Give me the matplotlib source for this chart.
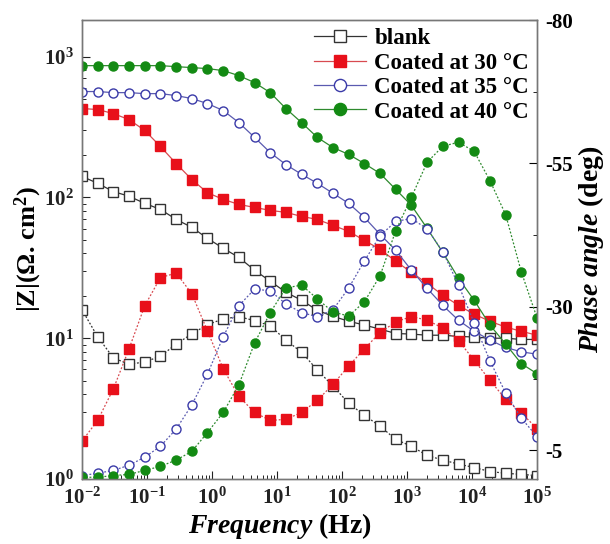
import matplotlib
matplotlib.use("Agg")
import matplotlib.pyplot as plt
from matplotlib.ticker import LogLocator, FixedLocator, NullFormatter

plt.rcParams['font.family'] = ['Liberation Serif', 'DejaVu Serif']
plt.rcParams['font.weight'] = 'bold'
plt.rcParams['axes.labelweight'] = 'bold'
plt.rcParams['axes.unicode_minus'] = False
plt.rcParams['mathtext.fontset'] = 'custom'
plt.rcParams['mathtext.rm'] = 'Liberation Serif:bold'
plt.rcParams['mathtext.it'] = 'Liberation Serif:bold:italic'
plt.rcParams['mathtext.bf'] = 'Liberation Serif:bold'

# frequency sweep (Hz)
freq = [0.01, 0.0174, 0.0304, 0.0530, 0.0924, 0.161, 0.281, 0.489, 0.853, 1.49,
        2.59, 4.52, 7.88, 13.7, 23.9, 41.7, 72.7, 127, 221, 385,
        672, 1170, 2040, 3560, 6210, 10800, 18900, 32900, 57400, 100000]

labels = ['blank', 'Coated at 30 \u00b0C', 'Coated at 35 \u00b0C', 'Coated at 40 \u00b0C']

# |Z| (ohm cm2)
z_blank = [141, 126, 110, 102, 90.7, 82.2, 69.8, 61.3, 51.2, 43.5,
           37.5, 30.4, 25.4, 21.2, 18.6, 15.8, 14.3, 13.2, 12.4, 11.6,
           10.8, 10.7, 10.5, 10.5, 10.3, 10.2, 10.0, 10.0, 9.8, 9.8]
z_30 = [428, 421, 394, 357, 299, 230, 174, 134, 108, 96.8,
        89.2, 84.9, 80.9, 78.3, 73.3, 69.8, 63.3, 57.4, 49.5, 42.8,
        35.2, 29.4, 24.5, 20.2, 17.1, 14.8, 13.2, 12.0, 11.2, 10.5]
z_35 = [565, 565, 555, 555, 546, 546, 529, 504, 464, 414,
        340, 267, 208, 171, 146, 126, 107, 90.7, 72.1, 54.7,
        42.1, 30.4, 22.6, 17.1, 13.4, 11.2, 9.7, 8.6, 8.0, 7.7]
z_40 = [863, 863, 863, 863, 863, 863, 849, 836, 822, 796,
        733, 654, 555, 428, 340, 267, 226, 202, 174, 148,
        114, 87.8, 60.3, 40.7, 26.6, 18.6, 12.4, 9.1, 6.6, 5.6]

# phase angle (deg)
p_blank = [-29.5, -24.8, -21.1, -20.0, -20.4, -21.4, -23.5, -25.3, -26.9, -27.9,
           -28.3, -27.6, -26.7, -24.2, -22.1, -19.0, -16.2, -13.2, -11.1, -9.2,
           -6.9, -5.7, -4.1, -3.3, -2.6, -2.0, -1.3, -1.0, -0.8, -0.6]
p_30 = [-6.6, -10.2, -15.7, -22.7, -30.2, -35.1, -35.9, -32.3, -25.8, -19.2,
        -14.4, -11.6, -10.2, -10.4, -11.6, -13.7, -16.5, -19.7, -22.7, -25.5,
        -27.4, -28.3, -27.7, -26.3, -24.1, -20.7, -17.2, -13.9, -11.5, -8.8]
p_35 = [-0.6, -1.0, -1.5, -2.4, -3.8, -5.7, -8.7, -12.9, -18.3, -24.8,
        -30.2, -33.1, -32.8, -30.5, -29.0, -28.3, -29.5, -33.3, -38.0, -42.4,
        -44.9, -45.4, -43.6, -39.6, -33.8, -27.2, -20.6, -15.0, -10.6, -7.4]
p_40 = [-0.3, -0.3, -0.6, -0.8, -1.5, -2.2, -3.3, -4.8, -8.1, -11.6,
        -16.4, -23.7, -29.0, -33.3, -33.8, -31.4, -29.1, -28.4, -30.9, -35.4,
        -43.3, -49.1, -55.2, -58.0, -58.7, -57.1, -52.0, -46.1, -36.1, -28.1]

x_ticks = [1e-2, 1e-1, 1e0, 1e1, 1e2, 1e3, 1e4, 1e5]
z_ticks = [1, 10, 100, 1000]
phase_ticks = [-80, -55, -30, -5]

styles = [
    dict(marker='s', mfc='white', mec='#333333', color='#333333'),
    dict(marker='s', mfc='#e8101a', mec='#e8101a', color='#d84a50'),
    dict(marker='o', mfc='white', mec='#3a3aa8', color='#5a5ab0'),
    dict(marker='o', mfc='#138a13', mec='#138a13', color='#2e8a2e'),
]

fig = plt.figure(figsize=(6.1, 5.44), dpi=100)
ax = fig.add_axes([0.1344, 0.1195, 0.7459, 0.8437])
ax2 = ax.twinx()

handles = []
for z, p, st, lab in zip([z_blank, z_30, z_35, z_40], [p_blank, p_30, p_35, p_40], styles, labels):
    h, = ax.plot(freq, z, lw=0.9, ms=6.5, mew=1.0, label=lab, **st)
    ax2.plot(freq, p, lw=0.9, ls=(0, (1.5, 1.5)), ms=6.5, mew=1.0, **st)
    handles.append(h)

ax.set_xscale('log')
ax.set_yscale('log')
ax.set_xlim(0.01, 1e5)
ax.set_ylim(1, 1820)
ax.xaxis.set_major_locator(FixedLocator(x_ticks))
ax.xaxis.set_minor_locator(LogLocator(base=10, subs=range(2, 10), numticks=20))
ax.xaxis.set_minor_formatter(NullFormatter())
ax.yaxis.set_major_locator(FixedLocator(z_ticks))
ax.yaxis.set_minor_locator(LogLocator(base=10, subs=range(2, 10), numticks=20))
ax.yaxis.set_minor_formatter(NullFormatter())

ax2.set_ylim(0, -80)
ax2.yaxis.set_major_locator(FixedLocator(phase_ticks))
ax2.yaxis.set_minor_locator(FixedLocator([-67.5, -42.5, -17.5]))

ax.tick_params(which='major', direction='in', length=6, width=0.8, labelsize=15, pad=6, colors='#222222')
ax.tick_params(which='minor', direction='in', length=3, width=0.6)
ax.tick_params(axis='x', which='both', top=False)
ax.tick_params(axis='y', which='both', right=False)
ax2.tick_params(which='major', direction='in', length=6, width=0.8, labelsize=15, pad=6)
ax2.tick_params(which='minor', direction='in', length=3, width=0.6)
for t in ax.get_xticklabels() + ax.get_yticklabels() + ax2.get_yticklabels():
    t.set_fontweight('bold')

for a in (ax, ax2):
    for s in a.spines.values():
        s.set_color('#777777')
        s.set_linewidth(1.0)

ax.set_xlabel(r'$\it{Frequency}$ (Hz)', fontsize=20)
ax.xaxis.set_label_coords(0.435, -0.07)
ax.set_ylabel(r'|Z|($\Omega$. cm$^2$)', fontsize=19, labelpad=0)
ax2.set_ylabel(r'$\it{Phase\ angle}$ (deg)', fontsize=20, labelpad=2)

ax2.legend(handles=handles, loc='upper right', frameon=False, fontsize=16.5,
           handlelength=2.3, handletextpad=0.35, labelspacing=0.15,
           borderaxespad=0.25, borderpad=0.1, markerscale=1.35)

fig.savefig('out.png', dpi=100)
